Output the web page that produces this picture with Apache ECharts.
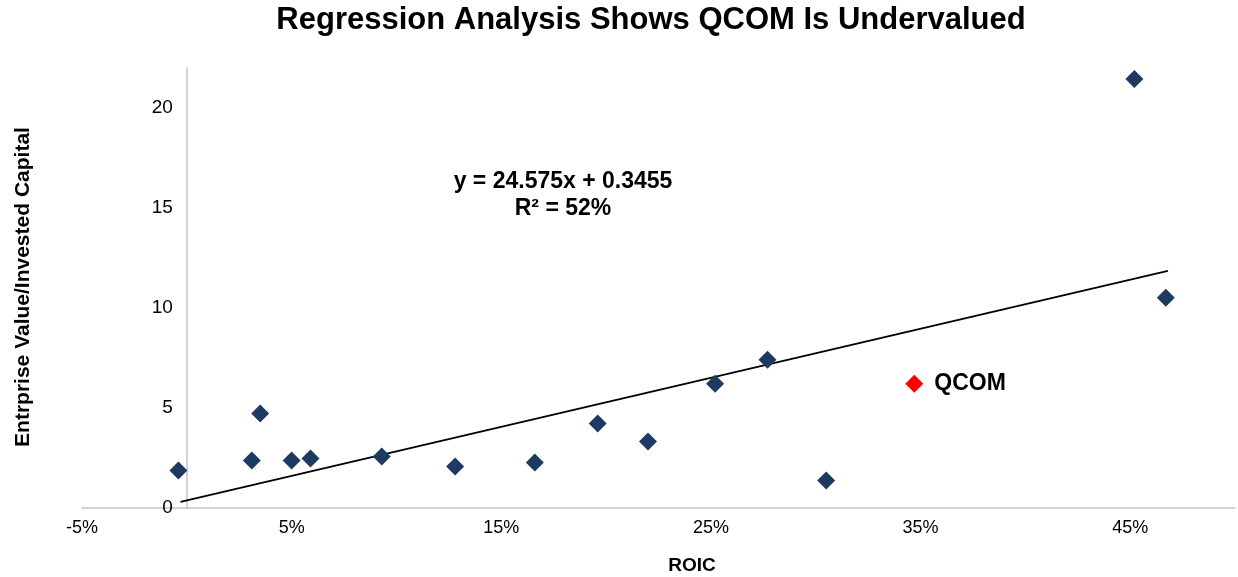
<!DOCTYPE html>
<html>
<head>
<meta charset="utf-8">
<script src="https://cdn.jsdelivr.net/npm/echarts@6/dist/echarts.min.js"></script>
<style>
html,body{margin:0;padding:0;background:#fff;}
#chart{width:1238px;height:577px;}
</style>
</head>
<body>
<div id="chart"></div>
<script>
// ROIC (%) and EV/Invested Capital for peer companies
const peerRoic = [-0.4, 3.1, 3.5, 5.0, 5.9, 9.3, 12.8, 16.6, 19.6, 22.0, 25.2, 27.7, 30.5, 45.2, 46.7];
const peerEvic = [1.85, 2.35, 4.7, 2.35, 2.45, 2.55, 2.05, 2.25, 4.2, 3.3, 6.2, 7.4, 1.35, 21.45, 10.5];
const qcomRoic = [34.7];
const qcomEvic = [6.2];
const qcomLabel = 'QCOM';
// trendline endpoints
const trendRoic = [-0.3, 46.8];
const trendEvic = [0.28, 11.85];
const equationLines = ['y = 24.575x + 0.3455', 'R² = 52%'];
const titleText = 'Regression Analysis Shows QCOM Is Undervalued';
const xName = 'ROIC';
const yName = 'Entrprise Value/Invested Capital';

const font = '"Liberation Sans", Arial, Helvetica, sans-serif';
const chart = echarts.init(document.getElementById('chart'));
const zip = (a, b) => a.map((v, i) => [v, b[i]]);

const gridLeft = 82, gridRight = 3;
const xMin = -5, xMax = 50;
const plotW = 1238 - gridLeft - gridRight;
// move the y axis (line and labels) to x = 0
const yOffset = -((0 - xMin) / (xMax - xMin)) * plotW;

const txt = (text, x, y, size, rotation) => ({
  type: 'text', x: x, y: y, rotation: rotation || 0,
  style: {text: text, textAlign: 'center', textVerticalAlign: 'middle',
          font: 'bold ' + size + 'px ' + font, fill: '#000'}
});

chart.setOption({
  animation: false,
  backgroundColor: '#fff',
  grid: {left: gridLeft, right: gridRight, top: 68, bottom: 69.5, containLabel: false, outerBoundsMode: 'none'},
  xAxis: {
    type: 'value',
    min: xMin, max: xMax, interval: 5,
    splitLine: {show: false},
    axisTick: {show: false},
    axisLine: {onZero: false, lineStyle: {color: '#c4c4c4', width: 1.5}},
    axisLabel: {
      fontFamily: font, fontSize: 18, color: '#000', margin: 12,
      showMaxLabel: false,
      formatter: v => (Math.round(v) % 10 === 0 ? '' : Math.round(v) + '%')
    }
  },
  yAxis: {
    type: 'value',
    min: 0, max: 22, interval: 5,
    offset: yOffset,
    splitLine: {show: false},
    axisTick: {show: false},
    axisLine: {onZero: false, lineStyle: {color: '#c4c4c4', width: 1.5}},
    axisLabel: {fontFamily: font, fontSize: 19, color: '#000', margin: 14, showMaxLabel: false}
  },
  series: [
    {
      type: 'line',
      data: zip(trendRoic, trendEvic),
      symbol: 'none',
      lineStyle: {color: '#000', width: 1.8},
      z: 2
    },
    {
      type: 'scatter',
      data: zip(peerRoic, peerEvic),
      symbol: 'diamond',
      symbolSize: [18, 18],
      itemStyle: {color: '#1f3a60', opacity: 1},
      z: 3
    },
    {
      type: 'scatter',
      data: zip(qcomRoic, qcomEvic),
      symbol: 'diamond',
      symbolSize: [18, 18],
      itemStyle: {color: '#ff0000', opacity: 1},
      label: {
        show: true, position: 'right', distance: 11,
        formatter: qcomLabel,
        fontFamily: font, fontSize: 23, fontWeight: 'bold', color: '#000'
      },
      z: 3
    }
  ],
  graphic: [
    txt(titleText, 651, 20, 31),
    txt(equationLines[0], 563, 182, 23),
    txt(equationLines[1], 563, 209, 23),
    txt(xName, 692, 566, 19),
    txt(yName, 23, 287, 21, Math.PI / 2)
  ]
});
</script>
</body>
</html>
